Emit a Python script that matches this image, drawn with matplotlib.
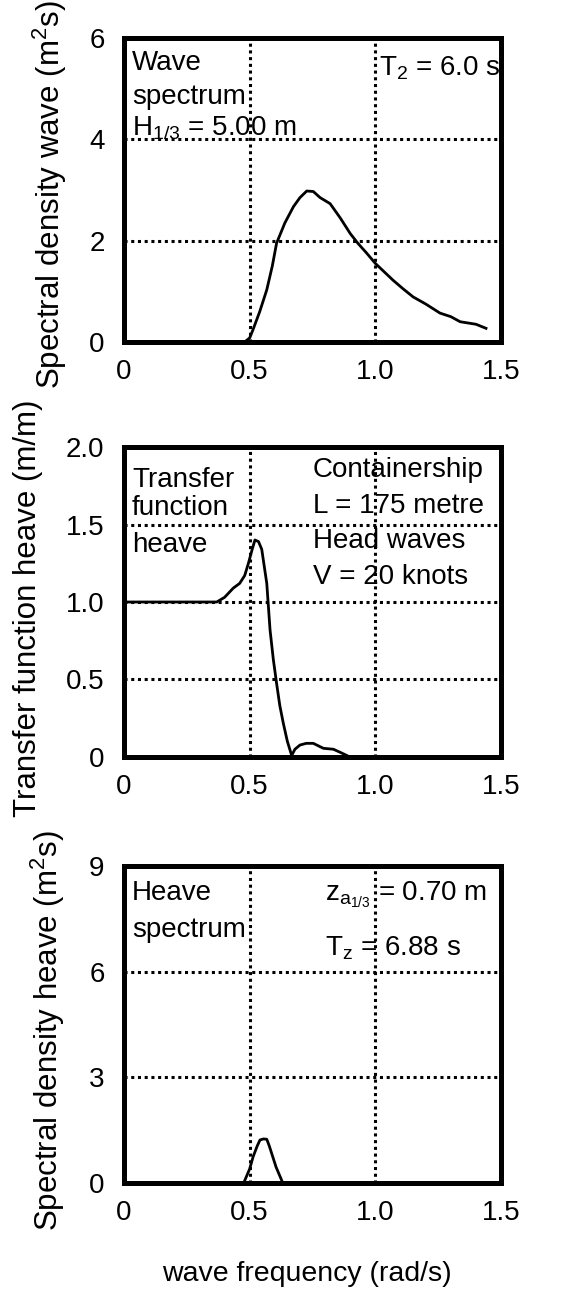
import matplotlib
matplotlib.use('Agg')
import matplotlib.pyplot as plt

plt.rcParams['font.family'] = ['Liberation Sans', 'DejaVu Sans']
plt.rcParams['mathtext.fontset'] = 'custom'
plt.rcParams['mathtext.rm'] = 'Liberation Sans'
plt.rcParams['mathtext.it'] = 'Liberation Sans'
plt.rcParams['mathtext.default'] = 'regular'

# wave spectrum
wave_w = [0.48, 0.50, 0.513, 0.54, 0.568, 0.59, 0.607, 0.64, 0.674, 0.70, 0.727, 0.753,
          0.78, 0.82, 0.86, 0.90, 0.93, 0.966, 1.00, 1.07, 1.11, 1.15, 1.20, 1.257,
          1.30, 1.337, 1.40, 1.44]
wave_s = [0.0, 0.08, 0.24, 0.6, 1.03, 1.5, 1.95, 2.35, 2.67, 2.85, 2.98, 2.97,
          2.85, 2.73, 2.45, 2.14, 1.95, 1.75, 1.55, 1.22, 1.05, 0.89, 0.75, 0.57,
          0.5, 0.40, 0.35, 0.27]

# transfer function heave
rao_w = [0.0, 0.369, 0.40, 0.435, 0.46, 0.48, 0.495, 0.51, 0.521, 0.535, 0.548, 0.568,
         0.581, 0.594, 0.607, 0.62, 0.634, 0.65, 0.667, 0.68, 0.70, 0.725, 0.753,
         0.793, 0.833, 0.86, 0.886]
rao_h = [1.0, 1.0, 1.03, 1.09, 1.12, 1.17, 1.25, 1.34, 1.40, 1.39, 1.34, 1.12,
         0.82, 0.63, 0.475, 0.33, 0.216, 0.10, 0.01, 0.05, 0.077, 0.088, 0.088,
         0.056, 0.05, 0.03, 0.01]

# heave spectrum
heave_w = [0.481, 0.50, 0.514, 0.53, 0.541, 0.555, 0.568, 0.578, 0.587, 0.605, 0.627]
heave_s = [0.08, 0.4, 0.75, 1.05, 1.22, 1.25, 1.24, 1.05, 0.85, 0.45, 0.08]

x_ticks = [0, 0.5, 1.0, 1.5]
x_labels = ['0', '0.5', '1.0', '1.5']
y1_ticks = [0, 2, 4, 6]
y1_labels = ['0', '2', '4', '6']
y2_ticks = [0, 0.5, 1.0, 1.5, 2.0]
y2_labels = ['0', '0.5', '1.0', '1.5', '2.0']
y3_ticks = [0, 3, 6, 9]
y3_labels = ['0', '3', '6', '9']

W, H = 582, 1292
fs = 20
fig = plt.figure(figsize=(W / 100, H / 100), dpi=100)
ax1 = fig.add_axes([0.213, 0.7353, 0.648, 0.2353])
ax2 = fig.add_axes([0.213, 0.4141, 0.648, 0.2399])
ax3 = fig.add_axes([0.213, 0.0844, 0.648, 0.2454])


def style(ax, yt, yl):
    ax.set_xlim(0, 1.5)
    ax.set_ylim(yt[0], yt[-1])
    ax.set_xticks(x_ticks)
    ax.set_xticklabels(x_labels)
    ax.set_yticks(yt)
    ax.set_yticklabels(yl)
    ax.tick_params(length=0, labelsize=fs, pad=14)
    ax.tick_params(axis='x', pad=12)
    ax.grid(True, color='black', linestyle=(0, (1, 1.2)), linewidth=2.2)
    for s in ax.spines.values():
        s.set_linewidth(3.6)


def note(x, y, s, ha='left'):
    # x, baseline y in picture pixels from top-left
    fig.text(x / W, 1 - y / H, s, fontsize=fs, ha=ha, va='baseline')


ax1.plot(wave_w, wave_s, color='black', lw=2)
style(ax1, y1_ticks, y1_labels)
note(132, 70, 'Wave')
note(132, 104, 'spectrum')
note(132, 135, 'H$_{1/3}$ = 5.00 m')
note(501, 75, 'T$_2$ = 6.0 s', ha='right')

ax2.plot(rao_w, rao_h, color='black', lw=2)
style(ax2, y2_ticks, y2_labels)
note(132, 487, 'Transfer')
note(132, 515, 'function')
note(132, 552, 'heave')
note(313, 477, 'Containership')
note(313, 513, 'L = 175 metre')
note(313, 548, 'Head waves')
note(313, 584, 'V = 20 knots')

ax3.plot(heave_w, heave_s, color='black', lw=2)
style(ax3, y3_ticks, y3_labels)
note(132, 900, 'Heave')
note(132, 937, 'spectrum')
note(325, 900, 'z$_{a_{1/3}}$ = 0.70 m')
note(325, 955, 'T$_z$ = 6.88 s')

fig.text(50 / W, 1 - 195 / H, 'Spectral density wave (m$^2$s)', rotation=90,
         fontsize=22.5, ha='center', va='center')
fig.text(28 / W, 1 - 608 / H, 'Transfer function heave (m/m)', rotation=90,
         fontsize=22.5, ha='center', va='center')
fig.text(48 / W, 1 - 1031 / H, 'Spectral density heave (m$^2$s)', rotation=90,
         fontsize=22.5, ha='center', va='center')
fig.text(307 / W, 1 - 1274 / H, 'wave frequency (rad/s)', fontsize=20.5,
         ha='center', va='center')

fig.savefig('out.png', dpi=100)
